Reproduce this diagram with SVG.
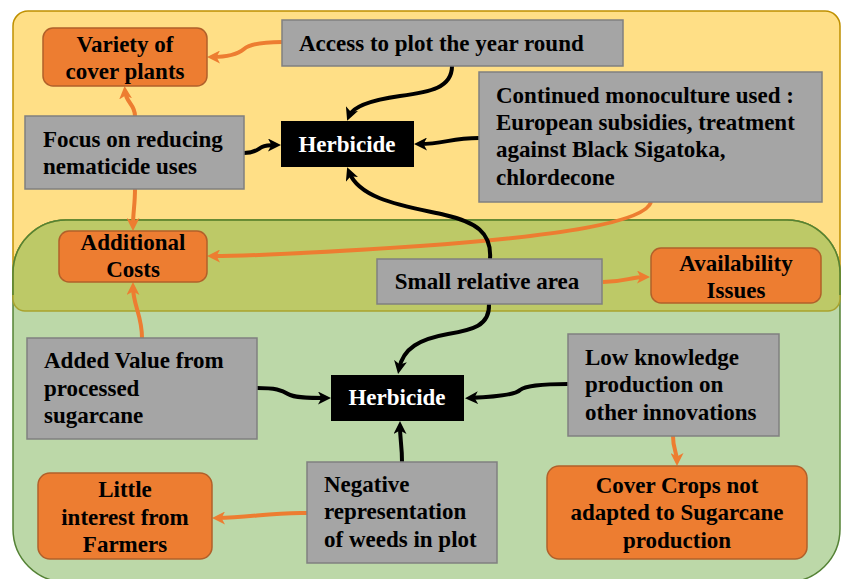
<svg xmlns="http://www.w3.org/2000/svg" width="842" height="579" viewBox="0 0 842 579">
<style>
.t{font-family:"Liberation Serif","Times New Roman",serif;font-weight:bold;font-size:23px;fill:#000}
.c{text-anchor:middle}
.w{fill:#fff}
.gray{fill:#A5A5A5;stroke:#808080;stroke-width:1.5}
.org{fill:#ED7D31;stroke:#B1602A;stroke-width:1.5}
.blk{fill:#000}
.ok{fill:none;stroke:#ED7D31;stroke-width:4}
.bk{fill:none;stroke:#000;stroke-width:4}
</style>
<defs>
<marker id="ao" markerUnits="userSpaceOnUse" markerWidth="13" markerHeight="13" viewBox="0 0 13 13" refX="8" refY="6.5" orient="auto"><path d="M0,0 L13,6.5 L0,13 L3.5,6.5 Z" fill="#ED7D31"/></marker>
<marker id="ab" markerUnits="userSpaceOnUse" markerWidth="13" markerHeight="13" viewBox="0 0 13 13" refX="8" refY="6.5" orient="auto"><path d="M0,0 L13,6.5 L0,13 L3.5,6.5 Z" fill="#000"/></marker>
</defs>
<rect width="842" height="579" fill="#fff"/>
<g id="backgrounds">
<rect x="13" y="11" width="827" height="300" rx="15" fill="#FFDF86" stroke="#BF9000" stroke-width="1.5"/>
<rect x="13" y="220" width="827" height="362" rx="53" fill="#BCD8A8" stroke="#548235" stroke-width="1.5"/>
<path d="M13,273 A53,53 0 0 1 66,220 L787,220 A53,53 0 0 1 840,273 L840,299 A12,12 0 0 1 828,311 L25,311 A12,12 0 0 1 13,299 Z" fill="#BDC967" stroke="#A9A22E" stroke-width="1.5"/>
<path d="M13,295 L13,273 A53,53 0 0 1 66,220 L787,220 A53,53 0 0 1 840,273 L840,295" fill="none" stroke="#548235" stroke-width="1.5"/>
</g>
<g id="connectors">
<path class="ok" marker-end="url(#ao)" d="M282,42 C262,42 250,44 244,49 C238,54 230,57 212,57"/>
<path class="ok" marker-end="url(#ao)" d="M135,116 C135,104 126,103 125,91"/>
<path class="ok" marker-end="url(#ao)" d="M135,189 C135,205 133,212 133,226"/>
<path class="ok" marker-end="url(#ao)" d="M651,202 C645,222 560,236 420,246 C330,252 260,256 212,256"/>
<path class="ok" marker-end="url(#ao)" d="M142,338 C142,315 133,305 133,287"/>
<path class="ok" marker-end="url(#ao)" d="M603,282 C625,282 630,277 645,277"/>
<path class="ok" marker-end="url(#ao)" d="M673,436 C673,450 677,452 677,461"/>
<path class="ok" marker-end="url(#ao)" d="M307,513 C270,512 250,518 217,518"/>
<path class="bk" marker-end="url(#ab)" d="M452,66 C452,88 430,92 400,96 C372,100 353,106 349,116"/>
<path class="bk" marker-end="url(#ab)" d="M479,138 C450,138 445,144 419,144"/>
<path class="bk" marker-end="url(#ab)" d="M244,153 C256,153 258,149 262,147 C266,145 270,145 276,145"/>
<path class="bk" marker-end="url(#ab)" d="M490,259 C492,232 475,222 445,215 C405,206 360,200 349,172"/>
<path class="bk" marker-end="url(#ab)" d="M489,304 C490,326 472,330 448,334 C420,339 403,348 399,369"/>
<path class="bk" marker-end="url(#ab)" d="M257,388 C275,388 282,390 288,394 C294,398 310,398 326,398"/>
<path class="bk" marker-end="url(#ab)" d="M568,384 C540,384 525,386 520,390 C515,395 495,397 470,398"/>
<path class="bk" marker-end="url(#ab)" d="M402,462 C402,445 400,440 400,426"/>
</g>
<g id="variety"><rect class="org" x="43" y="28" width="164" height="58" rx="10"/><text class="t c" x="125" y="52">Variety of</text><text class="t c" x="125" y="79">cover plants</text></g>
<g id="access"><rect class="gray" x="282" y="20" width="341" height="46"/><text class="t" x="299" y="51">Access to plot the year round</text></g>
<g id="herbicide1"><rect class="blk" x="281" y="121" width="133" height="46"/><text class="t c w" x="347" y="152">Herbicide</text></g>
<g id="focus"><rect class="gray" x="25" y="116" width="219" height="73"/><text class="t" x="43" y="147">Focus on reducing</text><text class="t" x="43" y="174">nematicide uses</text></g>
<g id="continued"><rect class="gray" x="479" y="72" width="343" height="130"/><text class="t" x="496" y="103">Continued monoculture used :</text><text class="t" x="496" y="130">European subsidies, treatment</text><text class="t" x="496" y="157">against Black Sigatoka,</text><text class="t" x="496" y="185">chlordecone</text></g>
<g id="additional"><rect class="org" x="59" y="231" width="148" height="51" rx="10"/><text class="t c" x="133" y="250">Additional</text><text class="t c" x="133" y="277">Costs</text></g>
<g id="small"><rect class="gray" x="377" y="259" width="225" height="45"/><text class="t c" x="487" y="289">Small relative area</text></g>
<g id="availability"><rect class="org" x="651" y="248" width="170" height="55" rx="10"/><text class="t c" x="736" y="271">Availability</text><text class="t c" x="736" y="298">Issues</text></g>
<g id="added"><rect class="gray" x="27" y="338" width="230" height="101"/><text class="t" x="44" y="368">Added Value from</text><text class="t" x="44" y="396">processed</text><text class="t" x="44" y="423">sugarcane</text></g>
<g id="herbicide2"><rect class="blk" x="331" y="375" width="133" height="46"/><text class="t c w" x="397" y="405">Herbicide</text></g>
<g id="low"><rect class="gray" x="568" y="334" width="211" height="102"/><text class="t" x="585" y="365">Low knowledge</text><text class="t" x="585" y="392">production on</text><text class="t" x="585" y="420">other innovations</text></g>
<g id="covercrops"><rect class="org" x="547" y="466" width="260" height="93" rx="12"/><text class="t c" x="677" y="493">Cover Crops not</text><text class="t c" x="677" y="520">adapted to Sugarcane</text><text class="t c" x="677" y="548">production</text></g>
<g id="little"><rect class="org" x="38" y="473" width="174" height="86" rx="12"/><text class="t c" x="125" y="497">Little</text><text class="t c" x="125" y="525">interest from</text><text class="t c" x="125" y="552">Farmers</text></g>
<g id="negative"><rect class="gray" x="307" y="462" width="190" height="101"/><text class="t" x="324" y="492">Negative</text><text class="t" x="324" y="519">representation</text><text class="t" x="324" y="547">of weeds in plot</text></g>
</svg>
